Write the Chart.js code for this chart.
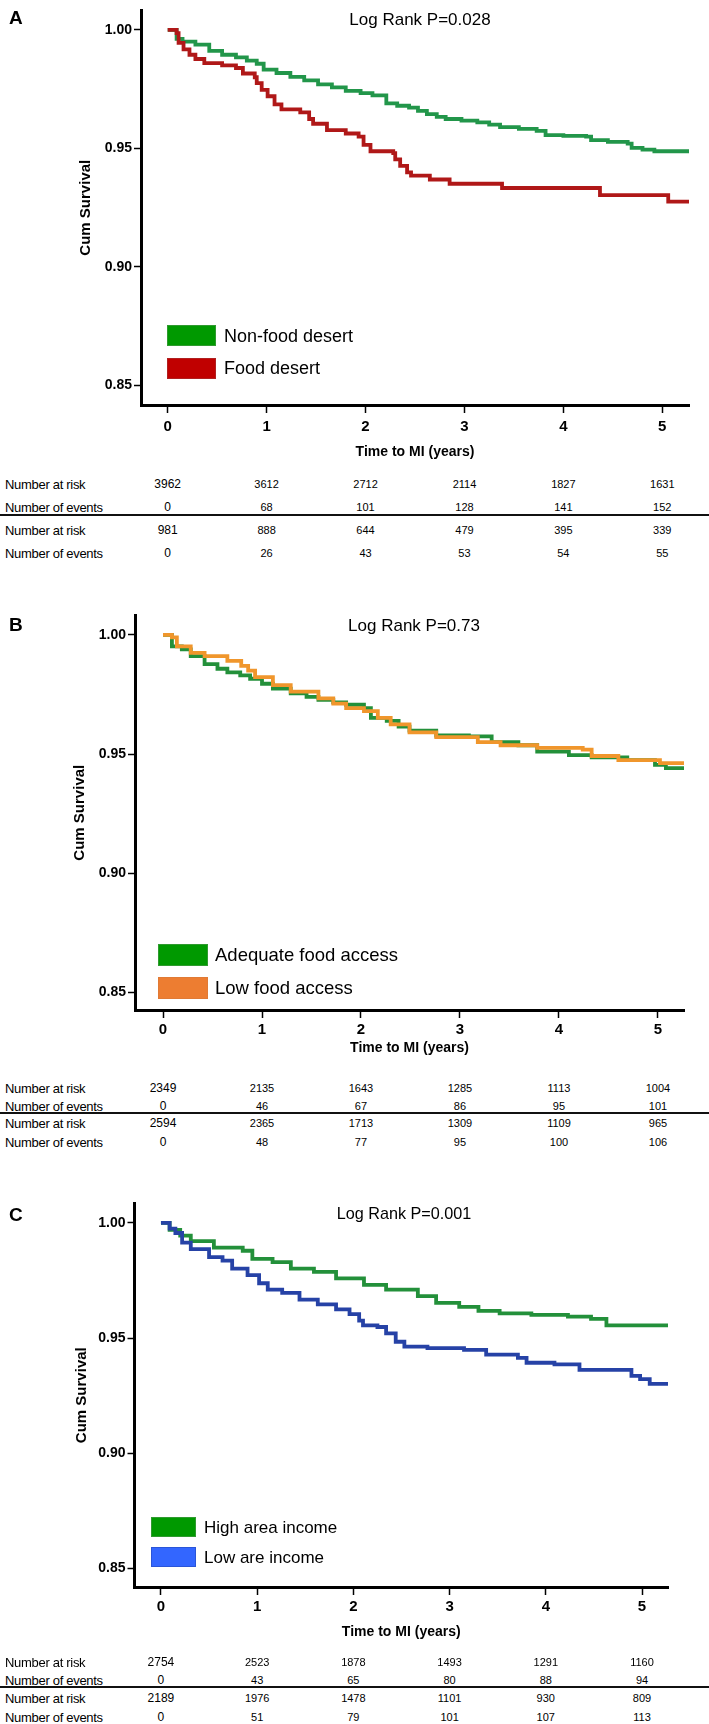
<!DOCTYPE html>
<html><head><meta charset="utf-8">
<script src="https://cdn.jsdelivr.net/npm/chart.js@4.4.1/dist/chart.umd.min.js"></script>
<style>
html,body{margin:0;padding:0;background:#fff;}
#page{position:relative;width:709px;height:1724px;overflow:hidden;font-family:"Liberation Sans",Arial,sans-serif;color:#000;background:#fff;}
.abs{position:absolute;white-space:nowrap;line-height:1;}
canvas{position:absolute;left:0;}
.rowlbl{font-size:13px;letter-spacing:-0.3px;transform:translateY(-50%);left:5px;}
.num{font-size:11px;transform:translate(-50%,-50%);}
.num0{font-size:12px;transform:translate(-50%,-50%);}
.rule{position:absolute;left:0;width:709px;height:2px;background:#111;}
.letter{font-size:19px;font-weight:bold;transform:translateY(-50%);left:9px;}
.logrank{font-size:16px;transform:translate(-50%,-50%);}
.box{position:absolute;}
.legtxt{transform:translateY(-50%);}
</style></head><body><div id="page"></div>
<script>
// ---------- shared tick values ----------
const xTicks = [0, 1, 2, 3, 4, 5];
const yTicks = [0.85, 0.90, 0.95, 1.00];
const rowLabels = ["Number at risk", "Number of events", "Number at risk", "Number of events"];

// ---------- Panel A ----------
const aNonFoodT = [0, 0.09, 0.15, 0.28, 0.42, 0.55, 0.69, 0.80, 0.90, 0.97, 1.10, 1.24, 1.38, 1.52, 1.66, 1.80, 1.95, 2.07, 2.21, 2.32, 2.44, 2.53, 2.62, 2.72, 2.81, 2.97, 3.13, 3.25, 3.36, 3.55, 3.73, 3.82, 4.00, 4.23, 4.28, 4.45, 4.65, 4.69, 4.80, 4.92, 5.27];
const aNonFoodS = [1.000, 0.9962, 0.9950, 0.9938, 0.9911, 0.9895, 0.9884, 0.9870, 0.9857, 0.9832, 0.9818, 0.9802, 0.9787, 0.9770, 0.9757, 0.9743, 0.9733, 0.9724, 0.9690, 0.9680, 0.9672, 0.9658, 0.9645, 0.9633, 0.9624, 0.9617, 0.9610, 0.9600, 0.9590, 0.9582, 0.9574, 0.9556, 0.9553, 0.9550, 0.9535, 0.9528, 0.9520, 0.9502, 0.9495, 0.9488, 0.9488];
const aFoodT = [0, 0.09, 0.11, 0.16, 0.22, 0.28, 0.37, 0.55, 0.69, 0.76, 0.88, 0.90, 0.95, 1.01, 1.08, 1.15, 1.34, 1.43, 1.47, 1.61, 1.80, 1.93, 1.98, 2.05, 2.28, 2.30, 2.35, 2.42, 2.46, 2.65, 2.85, 3.38, 4.37, 5.06, 5.27];
const aFoodS = [1.000, 0.9986, 0.9945, 0.9918, 0.9895, 0.9877, 0.9860, 0.9850, 0.9839, 0.9816, 0.9800, 0.9775, 0.9747, 0.9720, 0.9686, 0.9665, 0.9652, 0.9624, 0.9604, 0.9577, 0.9563, 0.9550, 0.9515, 0.9488, 0.9480, 0.9454, 0.9426, 0.9399, 0.9385, 0.9369, 0.9351, 0.9333, 0.9303, 0.9276, 0.9276];
const aRisk1 = [3962, 3612, 2712, 2114, 1827, 1631];
const aEvents1 = [0, 68, 101, 128, 141, 152];
const aRisk2 = [981, 888, 644, 479, 395, 339];
const aEvents2 = [0, 26, 43, 53, 54, 55];

// ---------- Panel B ----------
const bAdequateT = [0, 0.09, 0.19, 0.28, 0.42, 0.55, 0.65, 0.78, 0.88, 1.00, 1.11, 1.29, 1.45, 1.57, 1.72, 1.85, 2.03, 2.10, 2.26, 2.38, 2.49, 2.76, 3.09, 3.32, 3.59, 3.78, 4.10, 4.33, 4.69, 4.97, 5.08, 5.27];
const bAdequateS = [1.000, 0.9952, 0.9939, 0.9911, 0.9877, 0.9858, 0.9843, 0.9830, 0.9816, 0.9795, 0.9775, 0.9755, 0.9740, 0.9727, 0.9717, 0.9707, 0.9693, 0.9652, 0.9639, 0.9615, 0.9598, 0.9578, 0.9574, 0.9550, 0.9537, 0.9510, 0.9496, 0.9486, 0.9475, 0.9455, 0.9441, 0.9441];
const bLowT = [0, 0.09, 0.14, 0.28, 0.42, 0.65, 0.79, 0.86, 0.93, 1.11, 1.29, 1.57, 1.72, 1.85, 2.03, 2.17, 2.30, 2.49, 2.76, 3.18, 3.41, 3.78, 4.24, 4.33, 4.60, 5.02, 5.27];
const bLowS = [1.000, 0.9990, 0.9952, 0.9925, 0.9911, 0.9891, 0.9870, 0.9850, 0.9823, 0.9789, 0.9762, 0.9734, 0.9712, 0.9693, 0.9680, 0.9652, 0.9625, 0.9591, 0.9571, 0.9550, 0.9537, 0.9526, 0.9519, 0.9492, 0.9475, 0.9462, 0.9462];
const bRisk1 = [2349, 2135, 1643, 1285, 1113, 1004];
const bEvents1 = [0, 46, 67, 86, 95, 101];
const bRisk2 = [2594, 2365, 1713, 1309, 1109, 965];
const bEvents2 = [0, 48, 77, 95, 100, 106];

// ---------- Panel C ----------
const cHighT = [0, 0.09, 0.20, 0.31, 0.55, 0.85, 0.95, 1.16, 1.35, 1.59, 1.82, 2.11, 2.34, 2.67, 2.86, 3.10, 3.30, 3.52, 3.85, 4.23, 4.47, 4.63, 5.27];
const cHighS = [1.000, 0.9970, 0.9945, 0.9921, 0.9893, 0.9879, 0.9844, 0.9830, 0.9801, 0.9787, 0.9759, 0.9731, 0.9710, 0.9682, 0.9653, 0.9635, 0.9618, 0.9607, 0.9601, 0.9593, 0.9583, 0.9555, 0.9555];
const cLowT = [0, 0.09, 0.15, 0.22, 0.31, 0.50, 0.64, 0.74, 0.90, 1.02, 1.11, 1.26, 1.44, 1.63, 1.82, 1.96, 2.06, 2.10, 2.25, 2.34, 2.44, 2.53, 2.77, 3.15, 3.38, 3.71, 3.80, 4.09, 4.35, 4.89, 4.98, 5.08, 5.27];
const cLowS = [1.000, 0.9975, 0.9956, 0.9914, 0.9886, 0.9851, 0.9836, 0.9801, 0.9773, 0.9738, 0.9710, 0.9696, 0.9667, 0.9646, 0.9625, 0.9604, 0.9576, 0.9555, 0.9548, 0.9520, 0.9484, 0.9463, 0.9456, 0.9449, 0.9428, 0.9414, 0.9393, 0.9386, 0.9362, 0.9336, 0.9322, 0.9301, 0.9301];
const cRisk1 = [2754, 2523, 1878, 1493, 1291, 1160];
const cEvents1 = [0, 43, 65, 80, 88, 94];
const cRisk2 = [2189, 1976, 1478, 1101, 930, 809];
const cEvents2 = [0, 51, 79, 101, 107, 113];

const FONT = '"Liberation Sans", Arial, sans-serif';
const page = document.getElementById('page');

function el(cls, text, css) {
  const d = document.createElement('div');
  d.className = 'abs ' + cls;
  d.textContent = text;
  Object.assign(d.style, css);
  page.appendChild(d);
  return d;
}
function zip(t, s) { return t.map((v, i) => ({x: v, y: s[i]})); }

function makePanel(p) {
  const cv = document.createElement('canvas');
  cv.width = 709; cv.height = p.h;
  cv.style.top = p.top + 'px';
  cv.style.width = '709px'; cv.style.height = p.h + 'px';
  page.appendChild(cv);
  const chart = new Chart(cv.getContext('2d'), {
    type: 'line',
    data: { datasets: [
      { label: p.names[1], data: zip(p.t2, p.s2), borderColor: p.lineCol[1], order: 1 },
      { label: p.names[0], data: zip(p.t1, p.s1), borderColor: p.lineCol[0], order: 2 }
    ]},
    options: {
      responsive: false, animation: false, devicePixelRatio: 1,
      layout: { autoPadding: false, padding: { left: 0, right: 709 - p.right, top: 0, bottom: 0 } },
      plugins: { legend: { display: false }, tooltip: { enabled: false } },
      elements: { point: { radius: 0 }, line: { borderWidth: 3.8, stepped: 'before', tension: 0, fill: false } },
      scales: {
        x: {
          type: 'linear', min: p.xmin, max: p.xmax,
          afterFit: s => { s.height = p.xh; },
          afterBuildTicks: s => { s.ticks = xTicks.map(v => ({value: v})); },
          grid: { display: true, drawOnChartArea: false, drawTicks: true, tickLength: 8, tickWidth: 1.5, tickColor: '#000' },
          border: { display: true, color: '#000', width: 3 },
          ticks: { padding: p.xpad, color: '#000', maxRotation: 0, autoSkip: false,
                   font: { family: FONT, size: 15, weight: 'bold' }, callback: v => String(v) },
          title: { display: true, text: 'Time to MI (years)', color: '#000',
                   font: { family: FONT, size: 14, weight: 'bold' }, padding: { top: 0, bottom: p.xtpad } }
        },
        y: {
          type: 'linear', min: p.ymin, max: p.ymax,
          afterFit: s => { s.width = p.left; },
          afterBuildTicks: s => { s.ticks = yTicks.map(v => ({value: v})); },
          grid: { display: true, drawOnChartArea: false, drawTicks: true, tickLength: 7, tickWidth: 1.5, tickColor: '#000' },
          border: { display: true, color: '#000', width: 3 },
          ticks: { padding: 2, color: '#000', font: { family: FONT, size: 14, weight: 'bold' },
                   callback: v => Number(v).toFixed(2) },
          title: { display: true, text: 'Cum Survival', color: '#000',
                   font: { family: FONT, size: 15, weight: 'bold' }, padding: { top: p.ytpad, bottom: 0 } }
        }
      }
    }
  });

  // panel letter and log-rank label
  el('letter', p.letter, { top: p.letterY + 'px' });
  el('logrank', p.logrank, { left: p.lrX + 'px', top: p.lrY + 'px', fontSize: p.lrSize + 'px' });

  // legend
  p.legY.forEach((y, i) => {
    const b = document.createElement('div');
    b.className = 'box';
    Object.assign(b.style, { left: p.legX + 'px', top: (y - p.legH / 2) + 'px', width: p.legW + 'px', height: p.legH + 'px',
      background: p.legCol[i], boxSizing: 'border-box', border: '1px solid ' + p.legBorder[i] });
    page.appendChild(b);
    el('legtxt', p.names[i], { left: p.legTX + 'px', top: y + 'px', fontSize: p.legSize + 'px' });
  });

  // number-at-risk table, columns placed through the chart's x scale
  const xs = chart.scales.x;
  const rows = [p.risk1, p.events1, p.risk2, p.events2];
  rows.forEach((vals, r) => {
    el('rowlbl', rowLabels[r], { top: p.rowY[r] + 'px' });
    vals.forEach((v, c) => {
      el(c === 0 ? 'num0' : 'num', String(v), { left: xs.getPixelForValue(xTicks[c]) + 'px', top: p.rowY[r] + 'px' });
    });
  });
  const rule = document.createElement('div');
  rule.className = 'rule';
  rule.style.top = (p.ruleY - 1) + 'px';
  page.appendChild(rule);
}

makePanel({
  letter: 'A', letterY: 17, logrank: 'Log Rank P=0.028', lrX: 420, lrY: 19, lrSize: 17,
  top: 0, h: 470, left: 141, right: 689, xh: 65, xpad: 5, xtpad: 9.6, ytpad: 77,
  xmin: -0.27, xmax: 5.27, ymin: 0.8418, ymax: 1.0082,
  names: ['Non-food desert', 'Food desert'], lineCol: ['#22964a', '#b01818'],
  t1: aNonFoodT, s1: aNonFoodS, t2: aFoodT, s2: aFoodS,
  legX: 167, legW: 49, legH: 21, legY: [335.5, 368], legTX: 224, legSize: 18,
  legCol: ['#009900', '#c00000'], legBorder: ['#2f9a2f', '#b02020'],
  risk1: aRisk1, events1: aEvents1, risk2: aRisk2, events2: aEvents2,
  rowY: [484, 507, 530, 553], ruleY: 515
});

makePanel({
  letter: 'B', letterY: 624, logrank: 'Log Rank P=0.73', lrX: 414, lrY: 625, lrSize: 17,
  top: 605, h: 465, left: 135, right: 684, xh: 60, xpad: 3, xtpad: 13.6, ytpad: 71,
  xmin: -0.283, xmax: 5.263, ymin: 0.84264, ymax: 1.00818,
  names: ['Adequate food access', 'Low food access'], lineCol: ['#23903a', '#f0962c'],
  t1: bAdequateT, s1: bAdequateS, t2: bLowT, s2: bLowS,
  legX: 158, legW: 50, legH: 22, legY: [954.5, 988], legTX: 215, legSize: 18.5,
  legCol: ['#009900', '#ed7d31'], legBorder: ['#2f9a2f', '#e07a35'],
  risk1: bRisk1, events1: bEvents1, risk2: bRisk2, events2: bEvents2,
  rowY: [1088, 1106, 1123, 1142], ruleY: 1113
});

makePanel({
  letter: 'C', letterY: 1214, logrank: 'Log Rank P=0.001', lrX: 404, lrY: 1213, lrSize: 16.2,
  top: 1193, h: 462, left: 134.5, right: 668, xh: 68, xpad: 3, xtpad: 14.6, ytpad: 73,
  xmin: -0.275, xmax: 5.27, ymin: 0.84197, ymax: 1.00845,
  names: ['High area income', 'Low are income'], lineCol: ['#23903a', '#2642a6'],
  t1: cHighT, s1: cHighS, t2: cLowT, s2: cLowS,
  legX: 151, legW: 45, legH: 20, legY: [1527, 1557], legTX: 204, legSize: 17,
  legCol: ['#009900', '#3366ff'], legBorder: ['#2f9a2f', '#2a55d8'],
  risk1: cRisk1, events1: cEvents1, risk2: cRisk2, events2: cEvents2,
  rowY: [1662, 1680, 1698, 1717], ruleY: 1687
});
</script>
</body></html>
